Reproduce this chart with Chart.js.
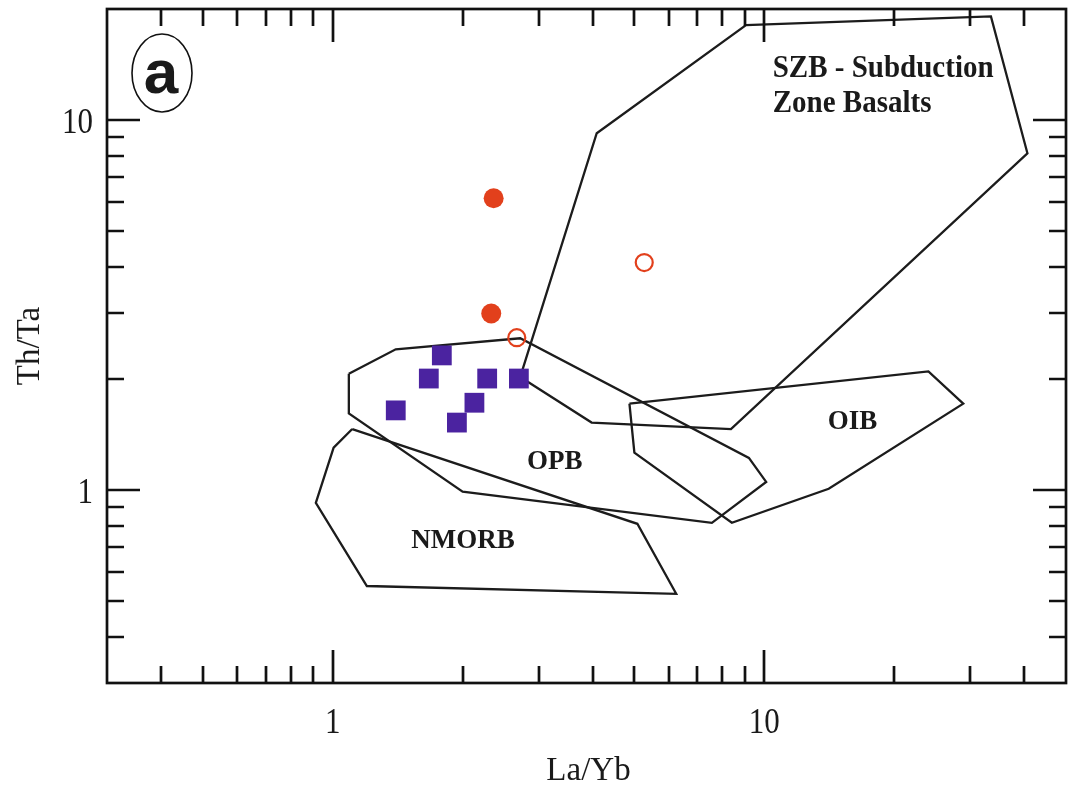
<!DOCTYPE html>
<html>
<head>
<meta charset="utf-8">
<title>Th/Ta - La/Yb</title>
<script src="https://cdn.jsdelivr.net/npm/chart.js@4.4.1/dist/chart.umd.min.js"></script>
<style>
  html, body { margin: 0; padding: 0; background: #fff; }
</style>
</head>
<body>
<canvas id="graph" width="1068" height="792"></canvas>
<script>
// échantillons (La/Yb, Th/Ta)
const carreLaYb = [1.79, 1.67, 2.28, 2.70, 1.40, 2.13, 1.94];
const carreThTa = [2.31, 2.00, 2.00, 2.00, 1.64, 1.72, 1.52];
const rondPleinLaYb = [2.36, 2.33];
const rondPleinThTa = [6.15, 3.00];
const rondVideLaYb = [2.67, 5.27];
const rondVideThTa = [2.58, 4.12];

// champs de discrimination
const szbLaYb = [2.72, 4.09, 9.07, 33.5, 40.7, 8.37, 3.98];
const szbThTa = [2.02, 9.22, 18.1, 19.1, 8.14, 1.46, 1.52];
const opbLaYb = [1.09, 1.40, 2.72, 9.21, 10.1, 7.56, 2.00, 1.09];
const opbThTa = [2.06, 2.40, 2.57, 1.22, 1.05, 0.814, 0.988, 1.61];
const nmorbLaYb = [1.11, 1.005, 0.914, 1.20, 6.25, 5.08];
const nmorbThTa = [1.46, 1.30, 0.922, 0.549, 0.523, 0.809];
const oibLaYb = [4.87, 24.0, 28.9, 14.1, 8.41, 5.00];
const oibThTa = [1.71, 2.09, 1.71, 1.006, 0.814, 1.26];

// graduations
const ticksX = [0.4, 0.5, 0.6, 0.7, 0.8, 0.9, 1, 2, 3, 4, 5, 6, 7, 8, 9, 10, 20, 30, 40];
const ticksY = [0.4, 0.5, 0.6, 0.7, 0.8, 0.9, 1, 2, 3, 4, 5, 6, 7, 8, 9, 10];
const etiquettes = [1, 10];
const bornesX = [0.3, 50];
const bornesY = [0.3, 20];

// noms des champs : [texte, La/Yb, Th/Ta]
const nomsChamps = [
  ['SZB - Subduction', 10.46, 13.08],
  ['Zone Basalts', 10.46, 10.51],
  ['OPB', 3.27, 1.14],
  ['OIB', 16.0, 1.46],
  ['NMORB', 2.005, 0.696]
];

const pts = (xs, ys) => xs.map((x, i) => ({ x, y: ys[i] }));
const ferme = (xs, ys) => { const p = pts(xs, ys); p.push(p[0]); return p; };

function champ(label, xs, ys) {
  return {
    label,
    data: ferme(xs, ys),
    showLine: true,
    borderColor: '#1c1c1c',
    borderWidth: 2.3,
    pointRadius: 0,
    tension: 0,
    fill: false,
    order: 1
  };
}

// texte un peu étiré en hauteur, comme la police de la figure
function texte(ctx, txt, px, py, etire, angle) {
  ctx.save();
  ctx.translate(px, py);
  if (angle) ctx.rotate(angle);
  ctx.scale(1, etire);
  ctx.fillText(txt, 0, 0);
  ctx.restore();
}

const cadre = {
  id: 'cadre',
  afterDraw(chart) {
    const { ctx, chartArea: a, scales: { x, y } } = chart;
    ctx.save();
    ctx.strokeStyle = '#111';
    ctx.lineWidth = 2.7;
    ctx.strokeRect(a.left, a.top, a.right - a.left, a.bottom - a.top);
    ctx.beginPath();
    ticksX.forEach(v => {
      const px = Math.round(x.getPixelForValue(v));
      const len = etiquettes.includes(v) ? 33 : 17;
      ctx.moveTo(px, a.bottom); ctx.lineTo(px, a.bottom - len);
      ctx.moveTo(px, a.top); ctx.lineTo(px, a.top + len);
    });
    ticksY.forEach(v => {
      const py = Math.round(y.getPixelForValue(v));
      const len = etiquettes.includes(v) ? 33 : 17;
      ctx.moveTo(a.left, py); ctx.lineTo(a.left + len, py);
      ctx.moveTo(a.right, py); ctx.lineTo(a.right - len, py);
    });
    ctx.stroke();

    // étiquettes des axes
    ctx.fillStyle = '#1a1a1a';
    ctx.textBaseline = 'alphabetic';
    ctx.font = '31px "Liberation Serif", serif';
    ctx.textAlign = 'center';
    etiquettes.forEach(v => texte(ctx, String(v), x.getPixelForValue(v), a.bottom + 50, 1.17));
    ctx.textAlign = 'right';
    etiquettes.forEach(v => texte(ctx, String(v), a.left - 14, y.getPixelForValue(v) + 13, 1.17));

    ctx.font = '33px "Liberation Serif", serif';
    ctx.textAlign = 'center';
    texte(ctx, 'La/Yb', (a.left + a.right) / 2 + 2, 780, 1.05);
    texte(ctx, 'Th/Ta', 39, (a.top + a.bottom) / 2, 1.05, -Math.PI / 2);

    // noms des champs
    nomsChamps.forEach(([txt, vx, vy], i) => {
      const szb = i < 2;
      ctx.font = `bold ${szb ? 29 : 27}px "Liberation Serif", serif`;
      ctx.textAlign = szb ? 'left' : 'center';
      texte(ctx, txt, x.getPixelForValue(vx), y.getPixelForValue(vy), szb ? 1.1 : 1.04);
    });

    // repère "a"
    const cx = a.left + 55, cy = a.top + 64;
    ctx.strokeStyle = '#111';
    ctx.lineWidth = 1.6;
    ctx.beginPath();
    ctx.ellipse(cx, cy, 30, 39, 0, 0, Math.PI * 2);
    ctx.stroke();
    ctx.font = 'bold 62px "Liberation Sans", sans-serif';
    ctx.textAlign = 'center';
    ctx.fillText('a', cx - 1, cy + 20);
    ctx.restore();
  }
};

// axes cachés : ils ne servent qu'au placement, les graduations sont tracées par le plugin
const axeCache = (min, max) => ({
  type: 'logarithmic', min, max, display: false,
  ticks: { callback: () => null }
});

new Chart(document.getElementById('graph'), {
  type: 'scatter',
  data: {
    datasets: [
      {
        label: 'carrés',
        data: pts(carreLaYb, carreThTa),
        pointStyle: 'rect',
        pointRadius: 14,
        backgroundColor: '#4b23a0',
        borderWidth: 0,
        order: 0
      },
      {
        label: 'ronds pleins',
        data: pts(rondPleinLaYb, rondPleinThTa),
        pointStyle: 'circle',
        pointRadius: 10,
        backgroundColor: '#e2401c',
        borderWidth: 0,
        order: 0
      },
      {
        label: 'ronds vides',
        data: pts(rondVideLaYb, rondVideThTa),
        pointStyle: 'circle',
        pointRadius: 8.5,
        backgroundColor: 'rgba(255,255,255,0)',
        borderColor: '#e2401c',
        borderWidth: 2.2,
        order: 0
      },
      champ('SZB', szbLaYb, szbThTa),
      champ('OPB', opbLaYb, opbThTa),
      champ('NMORB', nmorbLaYb, nmorbThTa),
      champ('OIB', oibLaYb, oibThTa)
    ]
  },
  options: {
    responsive: false,
    animation: false,
    layout: { autoPadding: false, padding: { top: 9, right: 2, left: 107, bottom: 109 } },
    plugins: { legend: { display: false }, tooltip: { enabled: false } },
    scales: {
      x: axeCache(bornesX[0], bornesX[1]),
      y: axeCache(bornesY[0], bornesY[1])
    }
  },
  plugins: [cadre]
});
</script>
</body>
</html>
